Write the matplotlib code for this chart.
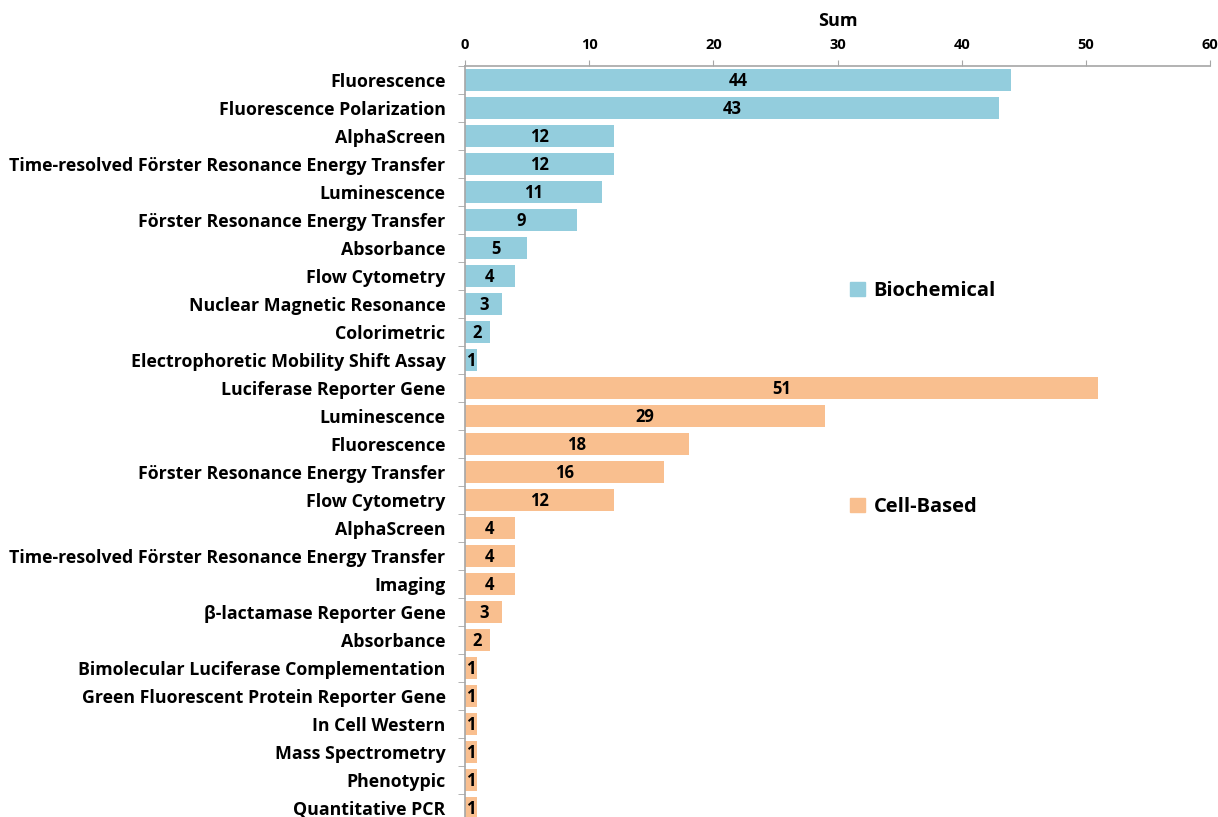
import numpy as np
import matplotlib.pyplot as plt
from matplotlib.patches import Patch

# assay technologies and counts, top to bottom
bio_labels = ['Fluorescence', 'Fluorescence Polarization', 'AlphaScreen',
              'Time-resolved Förster Resonance Energy Transfer', 'Luminescence',
              'Förster Resonance Energy Transfer', 'Absorbance', 'Flow Cytometry',
              'Nuclear Magnetic Resonance', 'Colorimetric',
              'Electrophoretic Mobility Shift Assay']
bio_values = [44, 43, 12, 12, 11, 9, 5, 4, 3, 2, 1]

cell_labels = ['Luciferase Reporter Gene', 'Luminescence', 'Fluorescence',
               'Förster Resonance Energy Transfer', 'Flow Cytometry', 'AlphaScreen',
               'Time-resolved Förster Resonance Energy Transfer', 'Imaging',
               'β-lactamase Reporter Gene', 'Absorbance',
               'Bimolecular Luciferase Complementation',
               'Green Fluorescent Protein Reporter Gene', 'In Cell Western',
               'Mass Spectrometry', 'Phenotypic', 'Quantitative PCR']
cell_values = [51, 29, 18, 16, 12, 4, 4, 4, 3, 2, 1, 1, 1, 1, 1, 1]

blue = '#93CDDD'
orange = '#F9BF8F'

plt.rcParams['font.family'] = ['Open Sans', 'DejaVu Sans']
plt.rcParams['font.weight'] = 'bold'

labels = bio_labels + cell_labels
values = bio_values + cell_values
colors = [blue] * len(bio_values) + [orange] * len(cell_values)
y = np.arange(len(labels))

fig = plt.figure(figsize=(12.18, 8.17), dpi=100)
ax = fig.add_axes([0.3818, -0.0061, 0.6117, 0.9253])

bars = ax.barh(y, values, height=0.76, color=colors)
for b, v in zip(bars, values):
    ax.text(v / 2, b.get_y() + b.get_height() / 2 + 0.05, str(v), ha='center', va='center',
            fontsize=12, fontweight='bold', color='black')

ax.set_ylim(len(labels) - 0.5, -0.5)
ax.set_xlim(0, 60)
ax.xaxis.tick_top()
ax.xaxis.set_label_position('top')
ax.set_xticks(np.arange(0, 61, 10))
ax.set_xlabel('Sum', fontsize=13, fontweight='bold', labelpad=9)
ax.tick_params(axis='x', labelsize=10.5, length=4, color='#A6A6A6', pad=6)

ax.set_yticks(y)
ax.set_yticklabels(labels, fontsize=12.8, fontweight='bold')
ax.set_yticks(np.arange(-0.5, len(labels), 1), minor=True)
ax.tick_params(axis='y', which='major', length=0, pad=14)
ax.tick_params(axis='y', which='minor', length=5, color='#A6A6A6')

for s in ['right', 'bottom']:
    ax.spines[s].set_visible(False)
for s in ['top', 'left']:
    ax.spines[s].set_color('#A6A6A6')
    ax.spines[s].set_linewidth(1.2)

leg1 = ax.legend(handles=[Patch(color=blue, label='Biochemical')], frameon=False,
                 loc='center left', bbox_to_anchor=(0.493, 0.702), fontsize=14.5,
                 handlelength=0.7, handleheight=0.7, handletextpad=0.45)
ax.add_artist(leg1)
ax.legend(handles=[Patch(color=orange, label='Cell-Based')], frameon=False,
          loc='center left', bbox_to_anchor=(0.493, 0.417), fontsize=14.5,
          handlelength=0.7, handleheight=0.7, handletextpad=0.45)

fig.savefig('out.png', dpi=100)
